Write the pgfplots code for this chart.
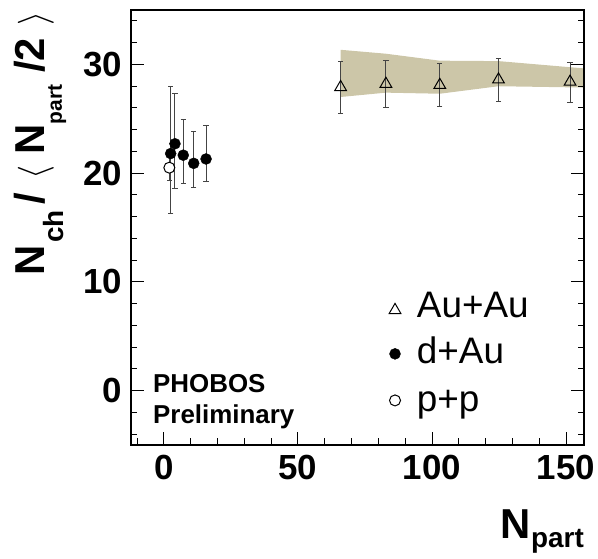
\documentclass[border=0pt]{standalone}
\usepackage{pgfplots}
\usepackage{fontspec}
\usepackage{amsmath}
\pgfplotsset{compat=1.18}
\setmainfont{Liberation Sans}
\definecolor{bandtan}{RGB}{204,198,168}
\definecolor{barg}{HTML}{444444}

\begin{document}
\begin{tikzpicture}
\begin{axis}[
  name=ax,
  scale only axis,
  width=453bp, height=435bp,
  xmin=-12.3, xmax=156.7,
  ymin=-5, ymax=35,
  xtick={0,50,100,150},
  minor xtick={-10,10,20,30,40,60,70,80,90,110,120,130,140},
  ytick={0,10,20,30},
  minor ytick={-4,-2,2,4,6,8,12,14,16,18,22,24,26,28,32,34},
  xtick pos=lower,
  ytick pos=both,
  tick align=inside,
  major tick length=13bp,
  minor tick length=6.5bp,
  every tick/.style={black, line width=1bp},
  axis line style={line width=1.2bp},
  axis on top,
  /pgf/number format/assume math mode=true,
  ticklabel style={font=\fontsize{35}{40}\selectfont\bfseries},
  xticklabel style={inner sep=0pt, yshift=-10bp},
  yticklabel style={inner sep=0pt, xshift=-9bp},
  error bars/error bar style={line width=1bp, barg},
  error bars/error mark options={rotate=90, mark size=2.6bp, line width=1bp, barg},
]
% systematic band for Au+Au
\addplot[fill=bandtan, draw=none] coordinates {
  (65.9,31.34) (82.8,30.98) (102.9,30.34) (124.8,30.3) (156.7,29.63)
  (156.7,27.87) (124.8,27.99) (102.9,27.3) (82.8,27.4) (65.9,27.0)
} -- cycle;

% Au+Au
\addplot[only marks, mark=triangle, mark size=6.75bp,
  mark options={draw=black, line width=1bp},
  error bars/.cd, y dir=both, y explicit] coordinates {
  (65.9,27.9) += (0,2.35) -= (0,2.4)
  (82.8,28.2) += (0,2.2) -= (0,2.2)
  (102.9,28.1) += (0,1.95) -= (0,2.0)
  (124.8,28.6) += (0,1.9) -= (0,2.0)
  (151.5,28.4) += (0,1.8) -= (0,1.9)
};

% d+Au
\addplot[only marks, mark=*, mark size=5.5bp,
  mark options={draw=black, fill=black},
  error bars/.cd, y dir=both, y explicit] coordinates {
  (2.5,21.8) += (0,6.2) -= (0,5.5)
  (4.1,22.7) += (0,4.65) -= (0,4.1)
  (7.2,21.65) += (0,3.25) -= (0,2.65)
  (11.1,20.9) += (0,2.9) -= (0,2.2)
  (15.7,21.3) += (0,3.1) -= (0,2.1)
};

% p+p
\addplot[only marks, mark=*, mark size=5.5bp,
  mark options={draw=black, fill=white, line width=1bp},
  error bars/.cd, y dir=both, y explicit] coordinates {
  (2.0,20.5) += (0,1.15) -= (0,1.15)
};

% legend symbols
\addplot[only marks, mark=triangle, mark size=6.75bp,
  mark options={draw=black, line width=1bp}] coordinates {(86.2,7.4)};
\addplot[only marks, mark=*, mark size=5.5bp,
  mark options={draw=black, fill=black}] coordinates {(86.2,3.38)};
\addplot[only marks, mark=*, mark size=5.5bp,
  mark options={draw=black, fill=white, line width=1bp}] coordinates {(86.2,-0.9)};

\begin{scope}[every node/.style={anchor=base west, inner sep=0pt, font=\fontsize{37}{40}\selectfont}]
\node at (axis cs:94.3,6.74) {Au+Au};
\node at (axis cs:94.3,2.46) {d+Au};
\node at (axis cs:94.3,-1.96) {p+p};
\end{scope}

\node[anchor=base west, inner sep=0pt, font=\fontsize{26}{28}\selectfont\bfseries]
  at (axis cs:-4.1,-0.13) {PHOBOS};
\node[anchor=base west, inner sep=0pt, font=\fontsize{26}{28}\selectfont\bfseries]
  at (axis cs:-4.1,-3.03) {Preliminary};
\end{axis}

\node[rotate=90, anchor=base west, inner sep=0pt, font=\fontsize{42}{46}\selectfont\bfseries]
  at ([shift={(-86bp,-266bp)}]ax.north west)
  {N\hspace{3bp}\raisebox{-19bp}{\fontsize{28}{30}\selectfont ch}\hspace{6bp}/\hspace{13bp}\resizebox*{!}{36bp}{$\langle$}\hspace{11bp}N\raisebox{-17bp}{\fontsize{21}{23}\selectfont part}\hspace{12bp}/2\hspace{12bp}\resizebox*{!}{36bp}{$\rangle$}};
\node[anchor=base east, inner sep=0pt, font=\fontsize{42}{46}\selectfont\bfseries]
  at ([shift={(0bp,-93bp)}]ax.south east)
  {N\raisebox{-9bp}{\fontsize{28}{30}\selectfont part}};

\pgfresetboundingbox
\path ([shift={(-131bp,-114bp)}]ax.south west) rectangle ([shift={(14bp,10bp)}]ax.north east);
\end{tikzpicture}
\end{document}
